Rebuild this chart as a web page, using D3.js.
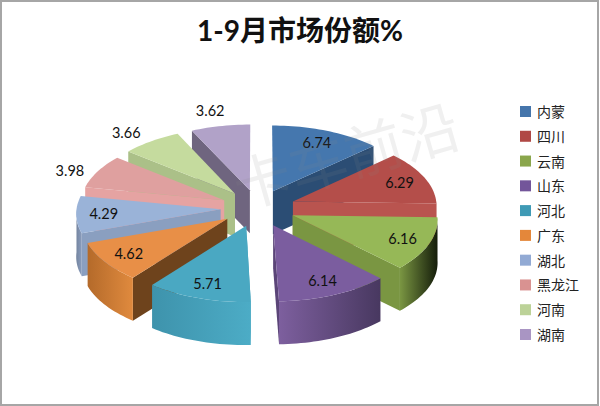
<!DOCTYPE html>
<html><head><meta charset="utf-8">
<script src="https://cdn.jsdelivr.net/npm/d3@7"></script>
<style>html,body{margin:0;padding:0;background:#fff}svg{display:block}</style>
</head><body><svg id="c" width="600" height="406"></svg>
<script>
const titleText = "1-9月市场份额%";
const categories = ["内蒙","四川","云南","山东","河北","广东","湖北","黑龙江","河南","湖南"];
const values = [6.74,6.29,6.16,6.14,5.71,4.62,4.29,3.98,3.66,3.62];
const topColors = ["#4577ae","#b44e4a","#96b857","#7b5d9f","#4aa8c2","#e88f47","#9ab3d8","#dfa09f","#c5db9e","#b1a2c8"];
const faceColors = ["#2b4d74","#b9544f","#7a9642","#5b4578","#4aa3bc","#6e431c","#8a9fc0","#e5a3a2","#abc088","#6f657f"];
const wallLeft = ["#2b4d74","#b44e4a","#7a9642","#7d5f9e","#3e93ac","#b46a2a","#74849f","#e8a5a4","#abc088","#6f657f"];
const wallRight = ["#2b4d74","#b44e4a","#141c0a","#483860","#4cacc6","#e08a3e","#8a9dbd","#e8a5a4","#abc088","#6f657f"];
const legendColors = ["#4575ab","#b04845","#8aa64c","#73559a","#3f9ab5","#e4873a","#92aad4","#d99291","#bcd298","#a995c3"];
const paintOrder = [9,0,8,1,7,2,6,5,3,4];

const W=600,H=406, cx=258, cy=208, Rx=144, Ry=71, thick=43, explode=0.26, persp=0.05;
const svg=d3.select("#c");
svg.append("rect").attr("x",1).attr("y",1).attr("width",W-3).attr("height",H-2).attr("fill","#fff").attr("stroke","#a6a6a6").attr("stroke-width",2);

const pie=d3.pie().sort(null).value(d=>d);
const arcs=pie(values);
function project(a,r,mid,h){
  const X=r*Math.sin(a)+explode*Math.sin(mid), Y=-r*Math.cos(a)-explode*Math.cos(mid);
  const s=1+persp*Y;
  return [cx+Rx*X*s, cy+Ry*Y*s+h];
}
const line=d3.line();
function samples(a0,a1){const n=Math.max(2,Math.ceil(Math.abs(a1-a0)/0.03));return d3.range(n+1).map(i=>a0+(a1-a0)*i/n);}
const defs=svg.append("defs");
const g=svg.append("g");
paintOrder.forEach(i=>{
  const d=arcs[i], mid=(d.startAngle+d.endAngle)/2;
  const ca=mid<Math.PI?d.endAngle:d.startAngle;
  const face=[project(0,0,mid,0),project(ca,1,mid,0),project(ca,1,mid,thick),project(0,0,mid,thick)];
  g.append("path").attr("d",line(face)+"Z").attr("fill",faceColors[i]);
  const w0=Math.max(d.startAngle,Math.PI/2), w1=Math.min(d.endAngle,3*Math.PI/2);
  if(w1>w0){
    const gid="wall"+i;
    const gr=defs.append("linearGradient").attr("id",gid).attr("x1",0).attr("x2",1).attr("y1",0).attr("y2",0);
    gr.append("stop").attr("offset","0%").attr("stop-color",wallLeft[i]);
    gr.append("stop").attr("offset","100%").attr("stop-color",wallRight[i]);
    const as=samples(w0,w1);
    const pts=as.map(a=>project(a,1,mid,0)).concat(as.slice().reverse().map(a=>project(a,1,mid,thick)));
    g.append("path").attr("d",line(pts)+"Z").attr("fill",`url(#${gid})`);
  }
  const top=[project(0,0,mid,0)].concat(samples(d.startAngle,d.endAngle).map(a=>project(a,1,mid,0)));
  g.append("path").attr("d",line(top)+"Z").attr("fill",topColors[i]);
});
const fmt=d3.format(".2f");
function labelPos(d){
  const m=(d.startAngle+d.endAngle)/2, c2=Math.cos(m)*Math.cos(m);
  const rx=d.value<4?1.19+0.2*c2:0.81, ry=d.value<4?1.0+0.27*c2:0.8;
  return [project(m,rx,m,0)[0],project(m,ry,m,0)[1]];
}
g.selectAll("text.lab").data(arcs).join("text").attr("class","lab")
 .attr("font-family","Lato,'Open Sans',sans-serif").attr("font-size",14.5).attr("fill","#111")
 .attr("text-anchor","middle").attr("dominant-baseline","central")
 .attr("x",d=>labelPos(d)[0]).attr("y",d=>labelPos(d)[1])
 .text(d=>fmt(d.value));
svg.append("text").attr("x",300).attr("y",41).attr("text-anchor","middle")
 .attr("font-family","Lato,'Noto Sans CJK SC',sans-serif").attr("font-weight",700).attr("font-size",28).attr("fill","#111").text(titleText);
svg.append("text").attr("transform","translate(345,153) rotate(-16)").attr("text-anchor","middle").attr("dominant-baseline","central")
 .attr("font-family","'Noto Sans CJK SC',sans-serif").attr("font-size",58).attr("fill","#888").attr("opacity",0.12).text("卡车前沿");
const ly=d3.scalePoint().domain(categories).range([111,334]);
const lg=svg.append("g").selectAll("g").data(categories).join("g").attr("transform",d=>`translate(520,${ly(d)})`);
lg.append("rect").attr("x",0).attr("y",-5).attr("width",11).attr("height",11).attr("fill",(d,i)=>legendColors[i]);
lg.append("text").attr("x",17).attr("y",0).attr("dominant-baseline","central").attr("font-family","'Noto Sans CJK SC',sans-serif").attr("font-size",14).attr("fill","#222").text(d=>d);
</script></body></html>
